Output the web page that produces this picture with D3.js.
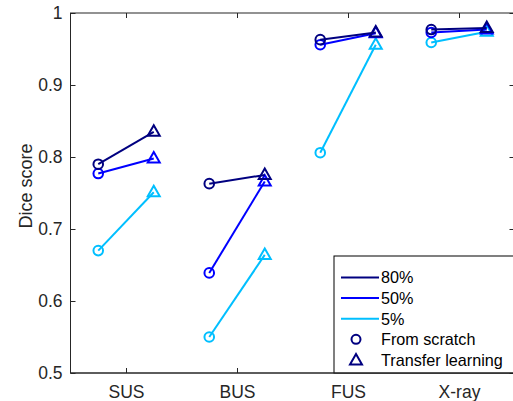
<!DOCTYPE html>
<html>
<head>
<meta charset="utf-8">
<script src="https://cdn.jsdelivr.net/npm/d3@7"></script>
<style>
  body { margin: 0; background: #fff; }
  svg { display: block; font-family: 'Liberation Sans', Arial, sans-serif; }
</style>
</head>
<body>
<svg id="chart" width="513" height="401"></svg>
<script>
// data
var categories = ['SUS', 'BUS', 'FUS', 'X-ray'];
var ratios = ['80%', '50%', '5%'];
var scratch80 = [0.790, 0.763, 0.963, 0.977];
var scratch50 = [0.777, 0.639, 0.956, 0.973];
var scratch5 = [0.670, 0.550, 0.806, 0.959];
var transfer80 = [0.835, 0.775, 0.973, 0.979];
var transfer50 = [0.798, 0.766, 0.972, 0.977];
var transfer5 = [0.751, 0.664, 0.956, 0.974];
var yTicks = [0.5, 0.6, 0.7, 0.8, 0.9, 1];
var yTickLabels = ['0.5', '0.6', '0.7', '0.8', '0.9', '1'];
var markerNames = ['From scratch', 'Transfer learning'];

function buildDiceChart() {

  var colors = ['#000080', '#0000ff', '#00bfff'];
  var scratch = [scratch80, scratch50, scratch5];
  var transfer = [transfer80, transfer50, transfer5];

  //Dimension-related vars
  var left = 70.5, right = 514.5, top = 13, bottom = 373;
  var axisColor = '#262626';

  var svg = d3.select('#chart');

  var xScale = d3.scaleLinear()
    .domain([0.5, 4.5])
    .range([left, right]);
  var yScale = d3.scaleLinear()
    .domain([0.5, 1])
    .range([bottom, top]);

  // axes box
  svg.append('rect')
    .attr('x', left)
    .attr('y', top)
    .attr('width', right - left)
    .attr('height', bottom - top)
    .style('fill', 'none')
    .style('stroke', axisColor)
    .style('stroke-width', 1);

  var xTickVals = categories.map(function(d, i) { return i + 1; });

  // x axis (bottom + top ticks pointing inwards)
  var xAxis = d3.axisBottom(xScale)
    .tickValues(xTickVals)
    .tickFormat(function(d, i) { return categories[i]; })
    .tickSizeInner(-5)
    .tickSizeOuter(0)
    .tickPadding(12.5);
  var gx = svg.append('g')
    .attr('transform', 'translate(0,' + bottom + ')')
    .call(xAxis);
  var xTop = d3.axisTop(xScale)
    .tickValues(xTickVals)
    .tickFormat('')
    .tickSizeInner(-5)
    .tickSizeOuter(0);
  var gxt = svg.append('g')
    .attr('transform', 'translate(0,' + top + ')')
    .call(xTop);

  // y axis (left + right ticks)
  var yAxis = d3.axisLeft(yScale)
    .tickValues(yTicks)
    .tickFormat(function(d, i) { return yTickLabels[i]; })
    .tickSizeInner(-5)
    .tickSizeOuter(0)
    .tickPadding(8);
  var gy = svg.append('g')
    .attr('transform', 'translate(' + left + ',0)')
    .call(yAxis);
  var yRight = d3.axisRight(yScale)
    .tickValues(yTicks)
    .tickFormat('')
    .tickSizeInner(-5)
    .tickSizeOuter(0);
  var gyr = svg.append('g')
    .attr('transform', 'translate(' + right + ',0)')
    .call(yRight);

  [gx, gxt, gy, gyr].forEach(function(g) {
    g.select('.domain').remove();
    g.selectAll('line').style('stroke', axisColor);
    g.selectAll('text')
      .style('font-size', '17.5px')
      .style('fill', axisColor)
      .style('font-family', "'Liberation Sans', Arial, sans-serif");
  });

  // y label
  svg.append('text')
    .attr('transform', 'translate(32,' + 186 + ') rotate(-90)')
    .attr('text-anchor', 'middle')
    .style('font-size', '18px')
    .style('fill', axisColor)
    .text('Dice score');

  var triPath = 'M0,-6.5L6,4L-6,4Z';

  // draw lines + markers (5% first so darker ones are on top)
  for (var s = ratios.length - 1; s >= 0; s--) {
    var segs = categories.map(function(c, i) {
      return {
        x1: xScale(i + 1 - 0.25), y1: yScale(scratch[s][i]),
        x2: xScale(i + 1 + 0.25), y2: yScale(transfer[s][i])
      };
    });
    var g = svg.append('g').attr('class', 'series');

    g.selectAll('line')
      .data(segs)
      .enter()
      .append('line')
      .attr('x1', function(d) { return d.x1; })
      .attr('y1', function(d) { return d.y1; })
      .attr('x2', function(d) { return d.x2; })
      .attr('y2', function(d) { return d.y2; })
      .style('stroke', colors[s])
      .style('stroke-width', 2);

    g.selectAll('circle')
      .data(segs)
      .enter()
      .append('circle')
      .attr('cx', function(d) { return d.x1; })
      .attr('cy', function(d) { return d.y1; })
      .attr('r', 4.8)
      .style('fill', 'none')
      .style('stroke', colors[s])
      .style('stroke-width', 2);

    g.selectAll('path')
      .data(segs)
      .enter()
      .append('path')
      .attr('d', triPath)
      .attr('transform', function(d) { return 'translate(' + d.x2 + ',' + d.y2 + ')'; })
      .style('fill', 'none')
      .style('stroke', colors[s])
      .style('stroke-width', 2)
      .style('stroke-linejoin', 'miter');
  }

  // legend
  var lx = 334, ly = 256;
  var legend = svg.append('g');
  legend.append('rect')
    .attr('x', lx)
    .attr('y', ly)
    .attr('width', 200)
    .attr('height', bottom - ly)
    .style('fill', '#fff')
    .style('stroke', '#000')
    .style('stroke-width', 1);

  var rowGap = 20.6;
  ratios.forEach(function(r, i) {
    var yy = ly + 21.5 + i * rowGap;
    legend.append('line')
      .attr('x1', lx + 7)
      .attr('x2', lx + 45)
      .attr('y1', yy)
      .attr('y2', yy)
      .style('stroke', colors[i])
      .style('stroke-width', 2);
    legend.append('text')
      .attr('x', lx + 47)
      .attr('y', yy + 5.8)
      .style('font-size', '16.2px')
      .style('fill', '#000')
      .text(r);
  });
  markerNames.forEach(function(m, i) {
    var yy = ly + 21.5 + (i + 3) * rowGap;
    if (i === 0) {
      legend.append('circle')
        .attr('cx', lx + 22)
        .attr('cy', yy)
        .attr('r', 4.5)
        .style('fill', 'none')
        .style('stroke', colors[0])
        .style('stroke-width', 2);
    } else {
      legend.append('path')
        .attr('d', triPath)
        .attr('transform', 'translate(' + (lx + 22) + ',' + (yy + 0.5) + ')')
        .style('fill', 'none')
        .style('stroke', colors[0])
        .style('stroke-width', 2);
    }
    legend.append('text')
      .attr('x', lx + 47)
      .attr('y', yy + 5.8)
      .style('font-size', '16.2px')
      .style('fill', '#000')
      .text(m);
  });

  // bottom axis line over legend box
  svg.append('line')
    .attr('x1', left)
    .attr('x2', right)
    .attr('y1', bottom)
    .attr('y2', bottom)
    .style('stroke', axisColor);
}

buildDiceChart();
</script>
</body>
</html>
